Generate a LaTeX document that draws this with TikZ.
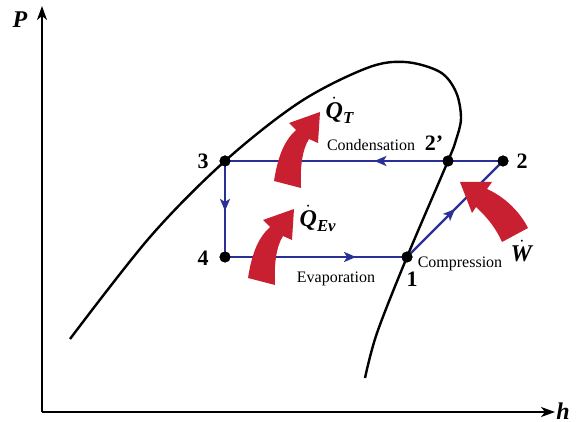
\documentclass[tikz,border=0pt]{standalone}
\usepackage{amsmath}
\usepackage{bm}
\usepackage{fontspec}
\setmainfont{Liberation Serif}
\usepackage{xcolor}
\usetikzlibrary{arrows.meta,decorations.markings}

\definecolor{cycleblue}{RGB}{42,48,150}
\definecolor{heatred}{RGB}{200,32,48}
\newcommand{\bi}[1]{\textbf{\textit{#1}}}

\begin{document}
\begin{tikzpicture}
	[
	x=1pt, y=-1pt,
	axis/.style={
		line width=1.8pt,
		-{Stealth[length=14pt,width=10pt,inset=4pt]}
	},
	dome/.style={
		line width=2.4pt,
		line join=round
	},
	cyc/.style={
		draw=cycleblue,
		line width=2.2pt
	},
	midarrow/.style={
		postaction={decorate},
		decoration={markings,
			mark=at position #1 with {\arrow{Stealth[length=12pt,width=10pt,inset=3pt]}}}
	},
	dot/.style={
		circle,
		fill=black,
		inner sep=0pt,
		minimum size=11pt
	},
	num/.style={
		font=\fontsize{22}{24}\selectfont\bfseries
	},
	proc/.style={
		font=\fontsize{16}{18}\selectfont
	},
	sym/.style={
		font=\fontsize{24}{26}\selectfont
	},
	heat/.style={
		fill=heatred,
		draw=none
	}
	]
	\useasboundingbox (0,0) rectangle (576,422);
	
	% Axes
	\coordinate (origin) at (42,412);
	\coordinate (ptop) at (42,6);
	\coordinate (hend) at (555,412);
	\draw[axis] (origin) -- (ptop);
	\draw[axis] (origin) -- (hend);
	\node[sym] (plabel) at (20,20) {\bi{P}};
	\node[sym, inner sep=1pt] (hlabel) at (563,411) {\bi{h}};
	
	% Saturation dome
	\draw[dome] plot[smooth, tension=0.55] coordinates {
		(70,339) (150,237) (225,161) (300,102) (367,68) (405,62)
		(440,72) (456,92) (461,118) (456,140) (448,161) (407,257) (377,333) (365,378)};
	
	% State points
	\node[dot] (p1) at (407,257) {};
	\node[dot] (p2) at (503,161) {};
	\node[dot] (p2s) at (448,161) {};
	\node[dot] (p3) at (225,161) {};
	\node[dot] (p4) at (225,257) {};
	
	% Cycle
	\draw[cyc, midarrow=0.5] (p1.center) -- (p2.center);
	\draw[cyc] (p2.center) -- (p2s.center);
	\draw[cyc, midarrow=0.33] (p2s.center) -- (p3.center);
	\draw[cyc, midarrow=0.52] (p3.center) -- (p4.center);
	\draw[cyc, midarrow=0.72] (p4.center) -- (p1.center);
	\foreach \p in {p1,p2,p2s,p3,p4}
		\fill (\p) circle (5.5pt);
	
	% Point labels
	\node[num] (l1) at (412,279) {1};
	\node[num] (l2) at (522,161) {2};
	\node[num] (l2s) at (434,143) {2’};
	\node[num] (l3) at (203,161) {3};
	\node[num] (l4) at (203,258) {4};
	
	% Process labels
	\node[proc] (cond) at (371,145) {Condensation};
	\node[proc] (evap) at (336,279) {Evaporation};
	\node[proc] (comp) at (460,264) {Compression};
	
	% Heat and work arrows
	\fill[heat] (274,181) .. controls (278,155) and (285,140) .. (296,130)
		-- (289,123) -- (320,112) -- (318,143) -- (309,139)
		.. controls (302,150) and (300,168) .. (301,188) -- cycle;
	\fill[heat] (248,278) .. controls (252,252) and (259,237) .. (270,227)
		-- (263,220) -- (294,209) -- (292,240) -- (283,236)
		.. controls (276,247) and (274,265) .. (275,285) -- cycle;
	\fill[heat] (460,182) -- (492,182) -- (487,189)
		.. controls (505,197) and (520,212) .. (528,228)
		-- (502,242) .. controls (496,228) and (486,216) .. (476,207)
		-- (472,213) -- cycle;
	
	\node[sym] (qt) at (340,110) {$\bm{\dot{\text{\bi{Q}}}}_{\text{\bi{T}}}$};
	\node[sym] (qev) at (318,218) {$\bm{\dot{\text{\bi{Q}}}}_{\text{\bi{Ev}}}$};
	\node[sym] (wdot) at (522,251) {$\bm{\dot{\text{\bi{W}}}}$};
	
\end{tikzpicture}
\end{document}
